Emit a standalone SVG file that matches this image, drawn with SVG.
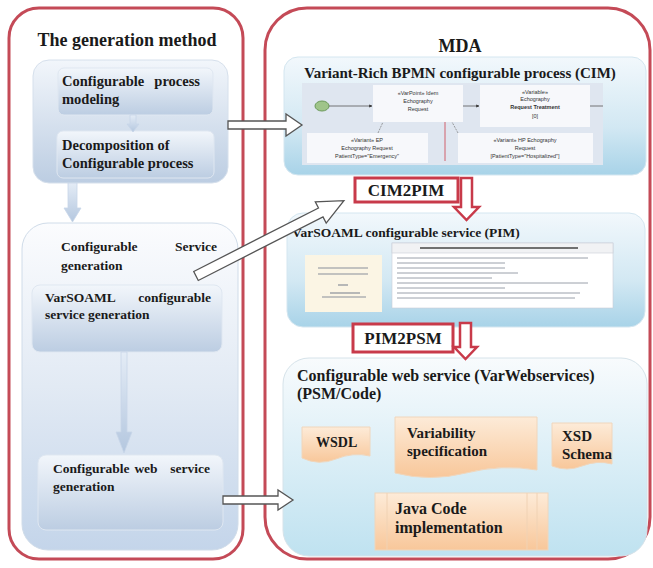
<svg xmlns="http://www.w3.org/2000/svg" width="653" height="568" viewBox="0 0 653 568">
<defs>
<linearGradient id="gBlue" x1="0" y1="0" x2="0" y2="1"><stop offset="0" stop-color="#f2f6fb"/><stop offset="1" stop-color="#bccde2"/></linearGradient>
<linearGradient id="gBlueBig" x1="0" y1="0" x2="0" y2="1"><stop offset="0" stop-color="#fbfcfe"/><stop offset="0.5" stop-color="#e2eaf4"/><stop offset="1" stop-color="#c4d5ea"/></linearGradient>
<linearGradient id="gCyan" x1="0" y1="0" x2="0" y2="1"><stop offset="0" stop-color="#f2f8fc"/><stop offset="0.6" stop-color="#d2e8f3"/><stop offset="1" stop-color="#a8d3e8"/></linearGradient>
<linearGradient id="gPsm" x1="0" y1="0" x2="0" y2="1"><stop offset="0" stop-color="#f8fbfd"/><stop offset="1" stop-color="#bfe2f0"/></linearGradient>
<linearGradient id="gOrange" x1="0" y1="0" x2="0" y2="1"><stop offset="0" stop-color="#fdebd8"/><stop offset="1" stop-color="#f8c79a"/></linearGradient>
<linearGradient id="gArrowBlue" x1="0" y1="0" x2="0" y2="1"><stop offset="0" stop-color="#e4ecf6"/><stop offset="1" stop-color="#b4c7df"/></linearGradient>
<marker id="mk" markerWidth="4" markerHeight="4" refX="3.5" refY="2" orient="auto"><path d="M0,0 L4,2 L0,4 Z" fill="#333"/></marker>
</defs>
<style>
.outer{fill:#ffffff;stroke:#c44a57;stroke-width:3}
.b{font-family:"Liberation Serif","Times New Roman",serif;font-weight:bold;fill:#1a1a1a}
.t13{font-size:13.5px}
.t14{font-size:14.5px}
.t16{font-size:16px}
.box{fill:url(#gBlue);stroke:#dfe7f1;stroke-width:1}
.doc{fill:url(#gOrange);stroke:#f0d6bc;stroke-width:1}
.hollow{fill:#ffffff;stroke:#555555;stroke-width:1.3}
.redarrow{fill:#ffffff;stroke:#c83a4a;stroke-width:2.5}
.bluearrow{fill:url(#gArrowBlue);stroke:#c8d6e8;stroke-width:0.8}
.tiny{font-family:"Liberation Sans",Arial,sans-serif;font-size:5.5px;fill:#333333}
.lbl{fill:#ffffff;stroke:#c83a4a;stroke-width:3}
.ill{stroke:#8a8f99;stroke-width:1.2}
</style>
<rect width="653" height="568" fill="#ffffff"/>

<g id="generation-method">
<rect class="outer" x="9" y="8" width="234" height="551" rx="30"/>
<text class="b" x="127" y="46" font-size="18" text-anchor="middle">The generation method</text>
</g>

<g id="mda">
<rect class="outer" x="265" y="8" width="385" height="551" rx="42"/>
<text class="b" x="460" y="52" font-size="18" text-anchor="middle">MDA</text>
</g>

<g id="process-group">
<rect x="33" y="60" width="195" height="123" rx="16" fill="url(#gBlue)" stroke="#d6e0ec"/>
</g>
<g id="config-process-modeling">
<rect class="box" x="58" y="68" width="155" height="47" rx="6"/>
<text class="b t14" x="62" y="86">Configurable</text>
<text class="b t14" x="200" y="86" text-anchor="end">process</text>
<text class="b t14" x="62" y="104">modeling</text>
</g>
<g id="decomposition">
<rect class="box" x="57" y="131" width="157" height="47" rx="6"/>
<text class="b t14" x="62" y="150">Decomposition of</text>
<text class="b t14" x="62" y="168">Configurable process</text>
</g>

<g id="service-group">
<rect x="22" y="223" width="216" height="327" rx="26" fill="url(#gBlueBig)" stroke="#d0dce9"/>
<text class="b t13" x="61" y="251">Configurable</text>
<text class="b t13" x="217" y="251" text-anchor="end">Service</text>
<text class="b t13" x="61" y="270">generation</text>
</g>
<g id="varsoaml-generation">
<rect class="box" x="32" y="285" width="190" height="67" rx="8"/>
<text class="b t13" x="45" y="302">VarSOAML</text>
<text class="b t13" x="211" y="302" text-anchor="end">configurable</text>
<text class="b t13" x="45" y="319">service generation</text>
</g>
<g id="web-service-generation">
<rect x="38" y="455" width="185" height="75" rx="8" fill="url(#gBlue)" stroke="#dfe7f1"/>
<text class="b t13" x="53" y="473">Configurable</text>
<text class="b t13" x="146" y="473" text-anchor="middle">web</text>
<text class="b t13" x="210" y="473" text-anchor="end">service</text>
<text class="b t13" x="53" y="491">generation</text>
</g>

<g id="cim">
<rect x="284" y="57" width="362" height="118" rx="14" fill="url(#gCyan)" stroke="#d4e6f0"/>
<text class="b" x="460" y="78" font-size="15" text-anchor="middle">Variant-Rich BPMN configurable process (CIM)</text>
<rect x="302" y="83" width="301" height="82" fill="#dfe6f0"/>
<ellipse cx="322" cy="106" rx="7" ry="5" fill="#9fc489" stroke="#6c9a5a"/>
<line x1="329" y1="106" x2="372" y2="106" stroke="#555" stroke-width="0.8" marker-end="url(#mk)"/>
<rect x="373" y="85" width="90" height="37" fill="#f7f8fb"/>
<text class="tiny" x="418" y="95" text-anchor="middle">«VarPoint» Idem</text>
<text class="tiny" x="418" y="103" text-anchor="middle">Echography</text>
<text class="tiny" x="418" y="111" text-anchor="middle">Request</text>
<line x1="463" y1="106" x2="479" y2="106" stroke="#555" stroke-width="0.8" marker-end="url(#mk)"/>
<rect x="480" y="85" width="110" height="42" fill="#f7f8fb"/>
<text class="tiny" x="535" y="94" text-anchor="middle">«Variable»</text>
<text class="tiny" x="535" y="101" text-anchor="middle">Echography</text>
<text class="tiny" x="535" y="109" text-anchor="middle" font-weight="bold">Request Treatment</text>
<text class="tiny" x="535" y="118" text-anchor="middle">[0]</text>
<line x1="590" y1="106" x2="603" y2="106" stroke="#555" stroke-width="0.8"/>
<line x1="378" y1="133" x2="383" y2="122" stroke="#777" stroke-width="0.7" stroke-dasharray="2,1"/>
<line x1="458" y1="133" x2="452" y2="122" stroke="#777" stroke-width="0.7" stroke-dasharray="2,1"/>
<line x1="445" y1="122" x2="445" y2="161" stroke="#d0606c" stroke-width="1"/>
<rect x="307" y="133" width="121" height="30" fill="#f7f8fb"/>
<text class="tiny" x="367" y="142" text-anchor="middle">«Variant» EP</text>
<text class="tiny" x="367" y="150" text-anchor="middle">Echography Request</text>
<text class="tiny" x="367" y="158" text-anchor="middle">PatientType="Emergency"</text>
<rect x="458" y="133" width="135" height="30" fill="#f7f8fb"/>
<text class="tiny" x="525" y="142" text-anchor="middle">«Variant» HP Echography</text>
<text class="tiny" x="525" y="150" text-anchor="middle">Request</text>
<text class="tiny" x="525" y="158" text-anchor="middle">[PatientType="Hospitalized"]</text>
</g>

<g id="cim2pim">
<rect class="lbl" x="355" y="178" width="103" height="24"/>
<text class="b" x="406" y="196" font-size="17" text-anchor="middle">CIM2PIM</text>
</g>

<g id="pim">
<rect x="287" y="213" width="358" height="114" rx="16" fill="url(#gCyan)" stroke="#d4e6f0"/>
<text class="b" x="292" y="237" font-size="13.5">VarSOAML configurable service (PIM)</text>
<rect x="305" y="255" width="77" height="57" fill="#fbf5e4"/>
<line class="ill" x1="318" y1="268" x2="368" y2="268"/>
<line class="ill" x1="318" y1="274" x2="368" y2="274"/>
<line class="ill" x1="338" y1="285" x2="348" y2="285" stroke-width="0.8"/>
<line class="ill" x1="330" y1="293" x2="360" y2="293" stroke-width="0.8"/>
<line class="ill" x1="322" y1="297" x2="366" y2="297"/>
<rect x="392" y="243" width="221" height="65" fill="#ffffff" stroke="#c9ced6" stroke-width="0.6"/>
<rect x="392" y="243" width="221" height="10" fill="#f1f2f4" stroke="#c9ced6" stroke-width="0.6"/>
<line x1="420" y1="248" x2="578" y2="248" stroke="#444" stroke-width="1.6"/>
<g stroke="#9aa0aa" stroke-width="1">
<line x1="397" y1="258" x2="588" y2="258"/>
<line x1="397" y1="263" x2="505" y2="263"/>
<line x1="397" y1="268" x2="505" y2="268"/>
<line x1="397" y1="273" x2="518" y2="273"/>
<line x1="397" y1="278" x2="492" y2="278"/>
<line x1="397" y1="283" x2="588" y2="283"/>
<line x1="397" y1="288" x2="505" y2="288"/>
<line x1="397" y1="293" x2="580" y2="293"/>
<line x1="397" y1="298" x2="575" y2="298"/>
</g>
</g>

<g id="pim2psm">
<rect class="lbl" x="353" y="324" width="100" height="28"/>
<text class="b" x="403" y="344" font-size="17" text-anchor="middle">PIM2PSM</text>
</g>

<g id="psm">
<rect x="283" y="358" width="364" height="198" rx="26" fill="url(#gPsm)" stroke="#d6e3ea"/>
<text class="b t16" x="297" y="381">Configurable web service (VarWebservices)</text>
<text class="b t16" x="297" y="399">(PSM/Code)</text>
</g>
<g id="wsdl">
<path class="doc" d="M302,427 H370 V456 Q353,452 336,459 Q319,466 302,458 Z"/>
<text class="b" x="316" y="447" font-size="14">WSDL</text>
</g>
<g id="variability-spec">
<path class="doc" d="M395,417 H537 V470 Q502,464 466,473 Q430,482 395,473 Z"/>
<text class="b" x="407" y="438" font-size="15">Variability</text>
<text class="b" x="407" y="456" font-size="15">specification</text>
</g>
<g id="xsd-schema">
<path class="doc" d="M552,423 H612 V464 Q597,460 582,466 Q567,472 552,466 Z"/>
<text class="b" x="562" y="441" font-size="15">XSD</text>
<text class="b" x="562" y="459" font-size="15">Schema</text>
</g>
<g id="java-code">
<rect class="doc" x="375" y="493" width="173" height="57"/>
<line x1="387" y1="493" x2="387" y2="550" stroke="#f0d2b4" stroke-width="1"/>
<line x1="527" y1="493" x2="527" y2="550" stroke="#f0d2b4" stroke-width="1"/>
<line x1="537" y1="493" x2="537" y2="550" stroke="#f0d2b4" stroke-width="1"/>
<text class="b" x="395" y="514" font-size="16">Java Code</text>
<text class="b" x="395" y="533" font-size="16">implementation</text>
</g>

<g id="connectors">
<polygon class="bluearrow" points="130,115 136,115 136,124 139,124 133,132 127,124 130,124"/>
<polygon class="bluearrow" points="68,183 77,183 77,208 81,208 72.5,222 64,208 68,208"/>
<polygon class="bluearrow" points="121,352 127,352 127,432 132,432 124,453 116,432 121,432"/>
<polygon class="hollow" points="228,121 286,121 286,114 302,125 286,136 286,129 228,129"/>
<polygon class="hollow" points="223,496 278,496 278,490 293,500 278,510 278,504 223,504"/>
<polygon class="hollow" transform="translate(196,276) rotate(-27)" points="0,-5 140,-5 140,-12 166,0 140,12 140,5 0,5"/>
<polygon class="redarrow" points="461,178 472,178 472,207 479,207 466.5,220 454,207 461,207"/>
<polygon class="redarrow" points="460,323 471,323 471,347 477,347 465.5,359 454,347 460,347"/>
</g>
</svg>
